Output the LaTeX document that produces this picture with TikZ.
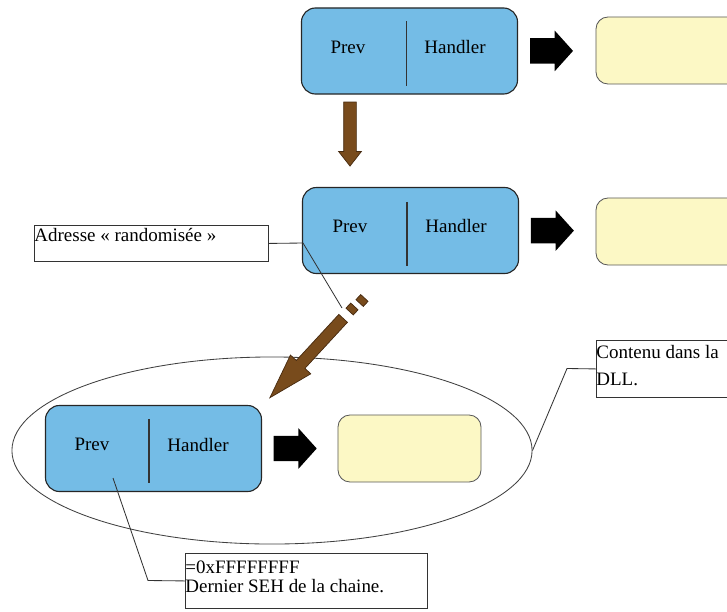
\documentclass[tikz,border=0pt]{standalone}
\usepackage{fontspec}
\setmainfont{Liberation Serif}
\usetikzlibrary{shapes.geometric, shapes.arrows, calc}

\definecolor{sehblue}{RGB}{116,188,230}
\definecolor{dllyellow}{RGB}{252,248,197}
\definecolor{ptrbrown}{RGB}{120,75,28}
\definecolor{ptredge}{RGB}{70,42,16}

\tikzset{
  seh/.style={draw=black!85, line width=0.8pt, fill=sehblue, rounded corners=0.35cm,
    minimum width=5.4cm, minimum height=2.15cm},
  dll/.style={draw=black!65, line width=0.6pt, fill=dllyellow, rounded corners=0.3cm,
    minimum width=3.575cm, minimum height=1.675cm},
  field/.style={font=\fontsize{13.5}{14}\selectfont, inner sep=0pt},
  sep/.style={draw=black!80, line width=0.9pt},
  nextarr/.style={single arrow, fill=black, inner xsep=0pt, inner ysep=0.31cm, anchor=tail,
    single arrow head extend=0.19cm, single arrow tip angle=96, minimum height=1.075cm},
  ptrarr/.style={single arrow, fill=ptrbrown, draw=ptredge, line width=0.5pt, inner xsep=0pt},
  ptrdash/.style={rectangle, fill=ptrbrown, draw=ptredge, line width=0.5pt, inner sep=0pt,
    minimum width=0.175cm, minimum height=0.25cm},
  note/.style={draw=black!80, line width=0.6pt, inner sep=0pt, anchor=north west,
    font=\fontsize{13.5}{13.7}\selectfont},
  leader/.style={draw=black!80, line width=0.6pt}
}

\begin{document}
\begin{tikzpicture}[x=0.025cm, y=-0.025cm]
    \useasboundingbox (0,0) rectangle (727,611);
    \clip (0,0) rectangle (727,611);

    % Zone around the last record
    \node[draw=black!75, line width=0.6pt, ellipse, minimum width=13cm, minimum height=4.675cm] (zone) at (272,450.5) {};

    % First record
    \node[seh] (b1) at (409.5,51) {};
    \draw[sep] ($(b1.north)+(-3,14)$) -- ($(b1.south)+(-3,-9)$);
    \node[field] (b1p) at ($(b1.center)+(-61.5,-4)$) {Prev};
    \node[field] (b1h) at ($(b1.center)+(45.5,-4)$) {Handler};
    \node[dll] (y1) at (667.5,50.5) {};
    \path (b1.east) -- node[nextarr, pos=0.15] (n1) {} (y1.west);

    % Pointer to the next record
    \node[ptrarr, rotate=-90, inner ysep=0.15cm, single arrow head extend=0.125cm,
      single arrow tip angle=76, minimum height=1.6cm] (down) at (350,130) {};

    % Second record
    \node[seh] (b2) at (410.5,230.5) {};
    \draw[sep] ($(b2.north)+(-3.5,15)$) -- ($(b2.south)+(-3.5,-8)$);
    \node[field] (b2p) at ($(b2.center)+(-60.5,-4)$) {Prev};
    \node[field] (b2h) at ($(b2.center)+(45.5,-4)$) {Handler};
    \node[dll] (y2) at (667.5,231.5) {};
    \path (b2.east) -- node[nextarr, pos=0.15] (n2) {} (y2.west);

    % Jump to the last record
    \node[ptrdash, rotate=227.3] (d1) at (362,300.5) {};
    \node[ptrdash, rotate=227.3] (d2) at (352,309) {};
    \node[ptrarr, rotate=227.3, inner ysep=0.1375cm, single arrow head extend=0.2cm,
      single arrow tip angle=34, minimum height=2.7cm] (jump) at (313,351) {};

    % Last record
    \node[seh] (b3) at (153.5,448.5) {};
    \draw[sep] ($(b3.north)+(-4.5,14)$) -- ($(b3.south)+(-4.5,-9)$);
    \node[field] (b3p) at ($(b3.center)+(-61.5,-4)$) {Prev};
    \node[field] (b3h) at ($(b3.center)+(44.5,-4)$) {Handler};
    \node[dll] (y3) at (409.5,448.5) {};
    \path (b3.east) -- node[nextarr, pos=0.15] (n3) {} (y3.west);

    % Notes
    \node[note] (adr) at (34,225) {\parbox[t][0.9cm][t]{5.85cm}{\rule{0pt}{11.4pt}Adresse « randomisée »}};
    \node[note] (last) at (185,553) {\parbox[t][1.375cm][t]{6.05cm}{\rule{0pt}{14.4pt}=0xFFFFFFFF\\Dernier SEH de la chaine.}};
    \node[note, font=\fontsize{13.5}{19.2}\selectfont] (dll) at (596,340) {\parbox[t][1.425cm][t]{4cm}{\rule{0pt}{12.5pt}Contenu dans la\\DLL.}};

    \coordinate (adrk) at (303,243);
    \coordinate (adrend) at (342,308);
    \draw[leader] (adr.east) -- (adrk) -- (adrend);

    \coordinate (lastbeg) at (113,478);
    \coordinate (lastk) at (148,580.5);
    \draw[leader] (lastbeg) -- (lastk) -- (last.west);

    \coordinate (dllk) at (567,368.5);
    \draw[leader] (zone.east) -- (dllk) -- (dll.west);
\end{tikzpicture}
\end{document}
